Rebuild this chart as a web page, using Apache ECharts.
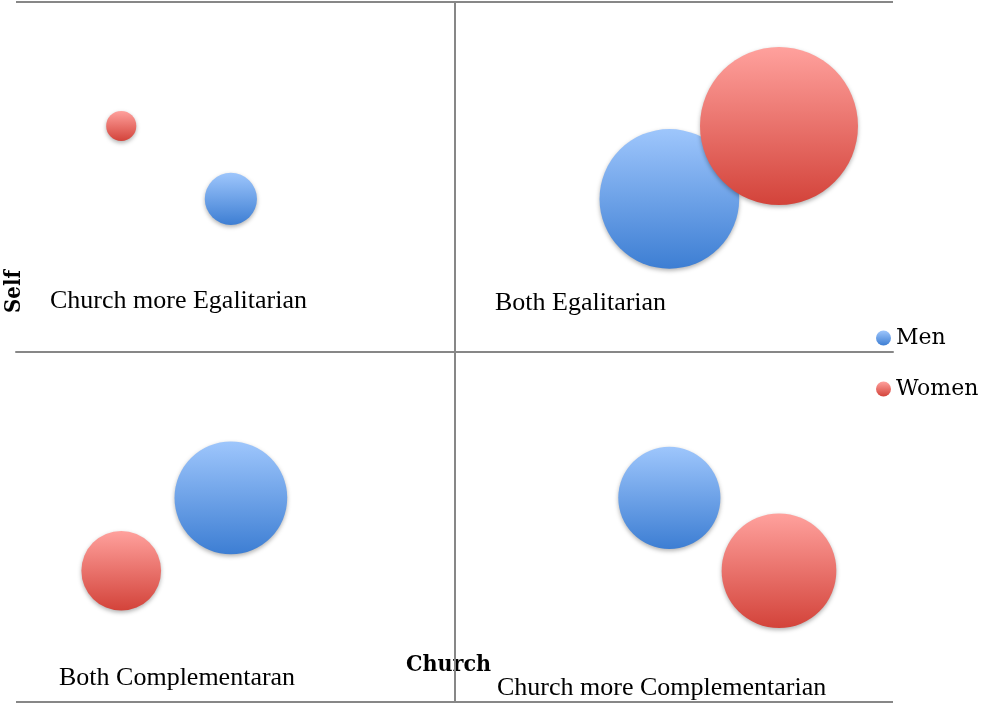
<!DOCTYPE html>
<html>
<head>
<meta charset="utf-8">
<style>
  html, body { margin: 0; padding: 0; background: #fff; }
  #chart { width: 987px; height: 705px; }
</style>
<script src="https://cdn.jsdelivr.net/npm/echarts@6/dist/echarts.min.js"></script>
</head>
<body>
<div id="chart"></div>
<script>
// bubble positions (x = church, y = self) and sizes (% of respondents)
const menX = [-1.02, 0.98, -1.02, 0.98];
const menY = [1.05, 1.05, -1.0, -1.0];
const menSize = [6, 43, 28, 23];

const womenX = [-1.52, 1.48, -1.52, 1.48];
const womenY = [1.55, 1.55, -1.5, -1.5];
const womenSize = [2, 55, 14, 29];

const seriesNames = ["Men", "Women"];
const quadrantLabels = [
  "Church more Egalitarian",
  "Both Egalitarian",
  "Both Complementaran",
  "Church more Complementarian",
];
const xAxisName = "Church";
const yAxisName = "Self";

const sizeScale = 21.3;

function zip(xs, ys, ss) {
  return xs.map((x, i) => [x, ys[i], ss[i]]);
}

function grad(top, bottom) {
  return new echarts.graphic.LinearGradient(0, 0, 0, 1, [
    { offset: 0, color: top },
    { offset: 1, color: bottom },
  ]);
}

const serifFont = "'Liberation Serif', 'Times New Roman', serif";
const titleFont = "'DejaVu Serif', serif";

const chart = echarts.init(document.getElementById("chart"));

chart.setOption({
  animation: false,
  grid: {
    left: 16,
    right: 94,
    top: 2,
    bottom: 3,
  },
  legend: {
    orient: "vertical",
    left: 871,
    top: 322,
    itemWidth: 15,
    itemHeight: 15,
    itemGap: 29,
    icon: "circle",
    textStyle: {
      fontFamily: titleFont,
      fontSize: 22,
      color: "#000",
    },
    data: seriesNames,
  },
  xAxis: {
    type: "value",
    min: -2,
    max: 2,
    axisLine: { onZero: true, lineStyle: { color: "#878787", width: 2 } },
    axisTick: { show: false },
    axisLabel: { show: false },
    splitLine: { show: false },
  },
  yAxis: {
    type: "value",
    min: -2.4,
    max: 2.4,
    interval: 2.4,
    axisLine: { onZero: true, lineStyle: { color: "#878787", width: 2 } },
    axisTick: { show: false },
    axisLabel: { show: false },
    splitLine: { show: true, lineStyle: { color: "#878787", width: 2 } },
  },
  series: [
    {
      name: seriesNames[0],
      type: "scatter",
      data: zip(menX, menY, menSize),
      symbolSize: (d) => sizeScale * Math.sqrt(d[2]),
      itemStyle: {
        color: grad("#9ec6fc", "#3d7ed3"),
        opacity: 1,
        shadowBlur: 4,
        shadowOffsetY: 2,
        shadowColor: "rgba(0,0,0,0.3)",
      },
    },
    {
      name: seriesNames[1],
      type: "scatter",
      data: zip(womenX, womenY, womenSize),
      symbolSize: (d) => sizeScale * Math.sqrt(d[2]),
      itemStyle: {
        color: grad("#ffa19d", "#d3433a"),
        opacity: 1,
        shadowBlur: 4,
        shadowOffsetY: 2,
        shadowColor: "rgba(0,0,0,0.3)",
      },
    },
  ],
  graphic: [
    {
      type: "text",
      left: 50,
      top: 288,
      style: { text: quadrantLabels[0], font: "26px " + serifFont, fill: "#000" },
    },
    {
      type: "text",
      left: 495,
      top: 290,
      style: { text: quadrantLabels[1], font: "26px " + serifFont, fill: "#000" },
    },
    {
      type: "text",
      left: 59,
      top: 665,
      style: { text: quadrantLabels[2], font: "26px " + serifFont, fill: "#000" },
    },
    {
      type: "text",
      left: 497,
      top: 675,
      style: { text: quadrantLabels[3], font: "26px " + serifFont, fill: "#000" },
    },
    {
      type: "text",
      left: 406,
      top: 654,
      style: {
        text: xAxisName,
        font: "bold 23px 'DejaVu Serif Condensed', 'DejaVu Serif', serif",
        fill: "#000",
      },
    },
    {
      type: "text",
      x: 3,
      y: 313,
      rotation: Math.PI / 2,
      style: {
        text: yAxisName,
        font: "bold 22px 'DejaVu Serif Condensed', 'DejaVu Serif', serif",
        fill: "#000",
      },
    },
  ],
});
</script>
</body>
</html>
